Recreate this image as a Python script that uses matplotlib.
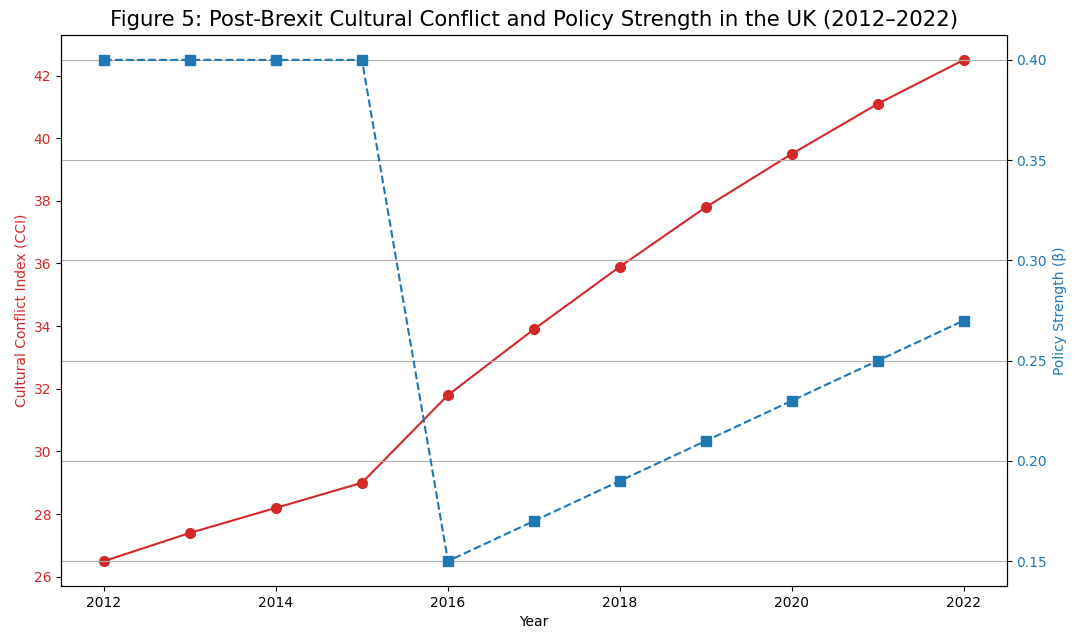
import matplotlib.pyplot as plt

years = [2012, 2013, 2014, 2015, 2016, 2017, 2018, 2019, 2020, 2021, 2022]
cci = [26.5, 27.4, 28.2, 29.0, 31.8, 33.9, 35.9, 37.8, 39.5, 41.1, 42.5]
beta = [0.40, 0.40, 0.40, 0.40, 0.15, 0.17, 0.19, 0.21, 0.23, 0.25, 0.27]

fig, ax1 = plt.subplots(figsize=(10.78, 6.33), dpi=100)
fig.subplots_adjust(left=0.0566, right=0.934, top=0.945, bottom=0.074)

# linke Achse: Konfliktindex
ax1.plot(years, cci, marker='o', markersize=7, linestyle='-', color='tab:red')
ax1.set_xlabel('Year')
ax1.set_ylabel('Cultural Conflict Index (CCI)', color='tab:red')
ax1.tick_params(axis='y', labelcolor='tab:red')

# rechte Achse: Politikstaerke
ax2 = ax1.twinx()
ax2.plot(years, beta, marker='s', markersize=7, linestyle='--', color='tab:blue')
ax2.set_ylabel('Policy Strength (β)', color='tab:blue')
ax2.tick_params(axis='y', labelcolor='tab:blue')
ax2.grid(True)

plt.title('Figure 5: Post-Brexit Cultural Conflict and Policy Strength in the UK (2012–2022)', fontsize=15.3)

plt.savefig('out.png')
